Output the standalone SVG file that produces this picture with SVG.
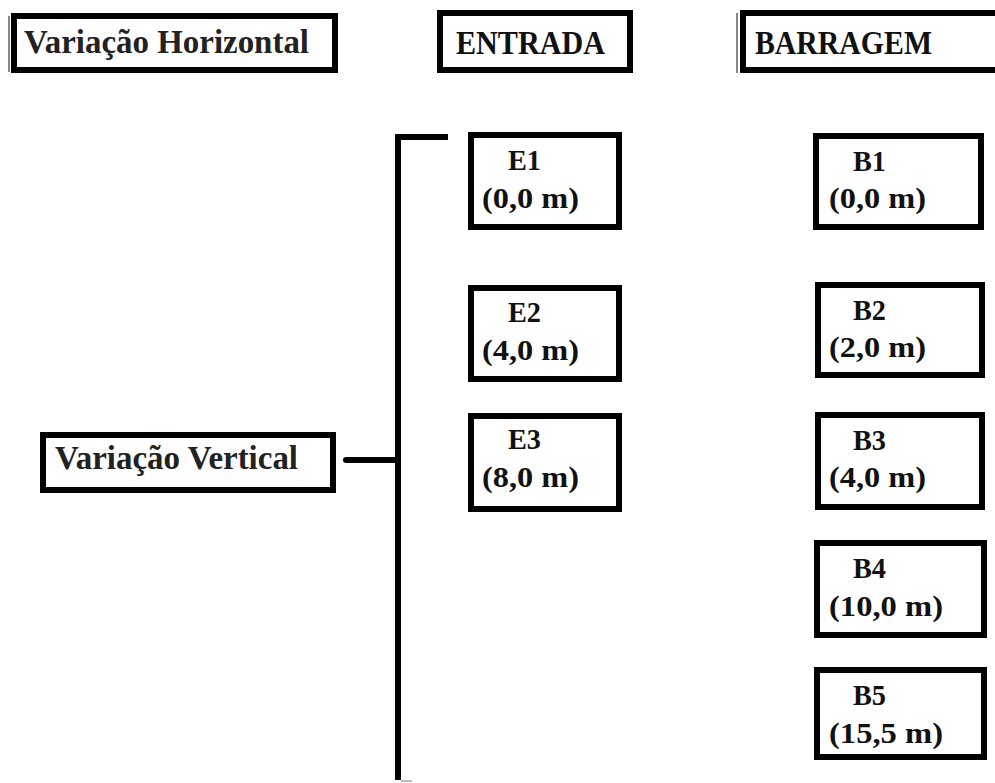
<svg xmlns="http://www.w3.org/2000/svg" width="995" height="783" viewBox="0 0 995 783">
<style>
.box{fill:#fff;stroke:#000;stroke-width:6}
.shadow{stroke:#888;stroke-width:2;fill:none}
text{font-family:"Liberation Serif","Times New Roman",Times,serif;font-weight:700}
.hdr{font-size:33px;fill:#111}
.var{font-size:34px;fill:#222}
.nt{font-size:30px;fill:#111}
.conn{stroke:#000;stroke-width:6;fill:none}
</style>
<rect width="995" height="783" fill="#fff"/>
<g id="var-horizontal">
<line class="shadow" x1="9" y1="16" x2="9" y2="72"/>
<rect class="box" x="14" y="16" width="321" height="54"/>
<text class="var" x="24" y="53" textLength="285" lengthAdjust="spacingAndGlyphs">Variação Horizontal</text>
</g>
<g id="entrada">
<rect class="box" x="440" y="13" width="190" height="57"/>
<text class="hdr" x="456" y="54" textLength="149" lengthAdjust="spacingAndGlyphs">ENTRADA</text>
</g>
<g id="barragem">
<line class="shadow" x1="737" y1="13" x2="737" y2="73"/>
<rect class="box" x="743" y="13" width="260" height="57"/>
<text class="hdr" x="755" y="54" textLength="177" lengthAdjust="spacingAndGlyphs">BARRAGEM</text>
</g>
<g id="var-vertical">
<rect class="box" x="43" y="435" width="290" height="55"/>
<text class="var" x="55" y="469" textLength="243" lengthAdjust="spacingAndGlyphs">Variação Vertical</text>
</g>
<g id="connectors">
<line class="conn" x1="398" y1="134" x2="398" y2="780"/>
<line class="conn" x1="395" y1="137" x2="448" y2="137"/>
<line class="conn" x1="346" y1="460" x2="398" y2="460" stroke-linecap="round"/>
<line stroke="#bbb" stroke-width="2" x1="401" y1="781" x2="412" y2="781"/>
</g>
<g id="E1">
<rect class="box" x="471" y="135" width="148" height="92"/>
<text class="nt" x="508" y="170" textLength="33" lengthAdjust="spacingAndGlyphs">E1</text>
<text class="nt" x="482" y="208" textLength="97" lengthAdjust="spacingAndGlyphs">(0,0 m)</text>
</g>
<g id="E2">
<rect class="box" x="471" y="288" width="148" height="91"/>
<text class="nt" x="508" y="322" textLength="33" lengthAdjust="spacingAndGlyphs">E2</text>
<text class="nt" x="482" y="360" textLength="97" lengthAdjust="spacingAndGlyphs">(4,0 m)</text>
</g>
<g id="E3">
<rect class="box" x="471" y="416" width="148" height="93"/>
<text class="nt" x="508" y="449" textLength="33" lengthAdjust="spacingAndGlyphs">E3</text>
<text class="nt" x="482" y="487" textLength="97" lengthAdjust="spacingAndGlyphs">(8,0 m)</text>
</g>
<g id="B1">
<rect class="box" x="816" y="136" width="165" height="91"/>
<text class="nt" x="853" y="171" textLength="33" lengthAdjust="spacingAndGlyphs">B1</text>
<text class="nt" x="829" y="208" textLength="97" lengthAdjust="spacingAndGlyphs">(0,0 m)</text>
</g>
<g id="B2">
<rect class="box" x="818" y="285" width="164" height="90"/>
<text class="nt" x="853" y="320" textLength="33" lengthAdjust="spacingAndGlyphs">B2</text>
<text class="nt" x="829" y="357" textLength="97" lengthAdjust="spacingAndGlyphs">(2,0 m)</text>
</g>
<g id="B3">
<rect class="box" x="818" y="415" width="164" height="92"/>
<text class="nt" x="853" y="450" textLength="33" lengthAdjust="spacingAndGlyphs">B3</text>
<text class="nt" x="829" y="487" textLength="97" lengthAdjust="spacingAndGlyphs">(4,0 m)</text>
</g>
<g id="B4">
<rect class="box" x="817" y="543" width="167" height="92"/>
<text class="nt" x="853" y="578" textLength="33" lengthAdjust="spacingAndGlyphs">B4</text>
<text class="nt" x="829" y="616" textLength="114" lengthAdjust="spacingAndGlyphs">(10,0 m)</text>
</g>
<g id="B5">
<rect class="box" x="817" y="670" width="167" height="87"/>
<text class="nt" x="853" y="705" textLength="33" lengthAdjust="spacingAndGlyphs">B5</text>
<text class="nt" x="829" y="743" textLength="114" lengthAdjust="spacingAndGlyphs">(15,5 m)</text>
</g>
</svg>
